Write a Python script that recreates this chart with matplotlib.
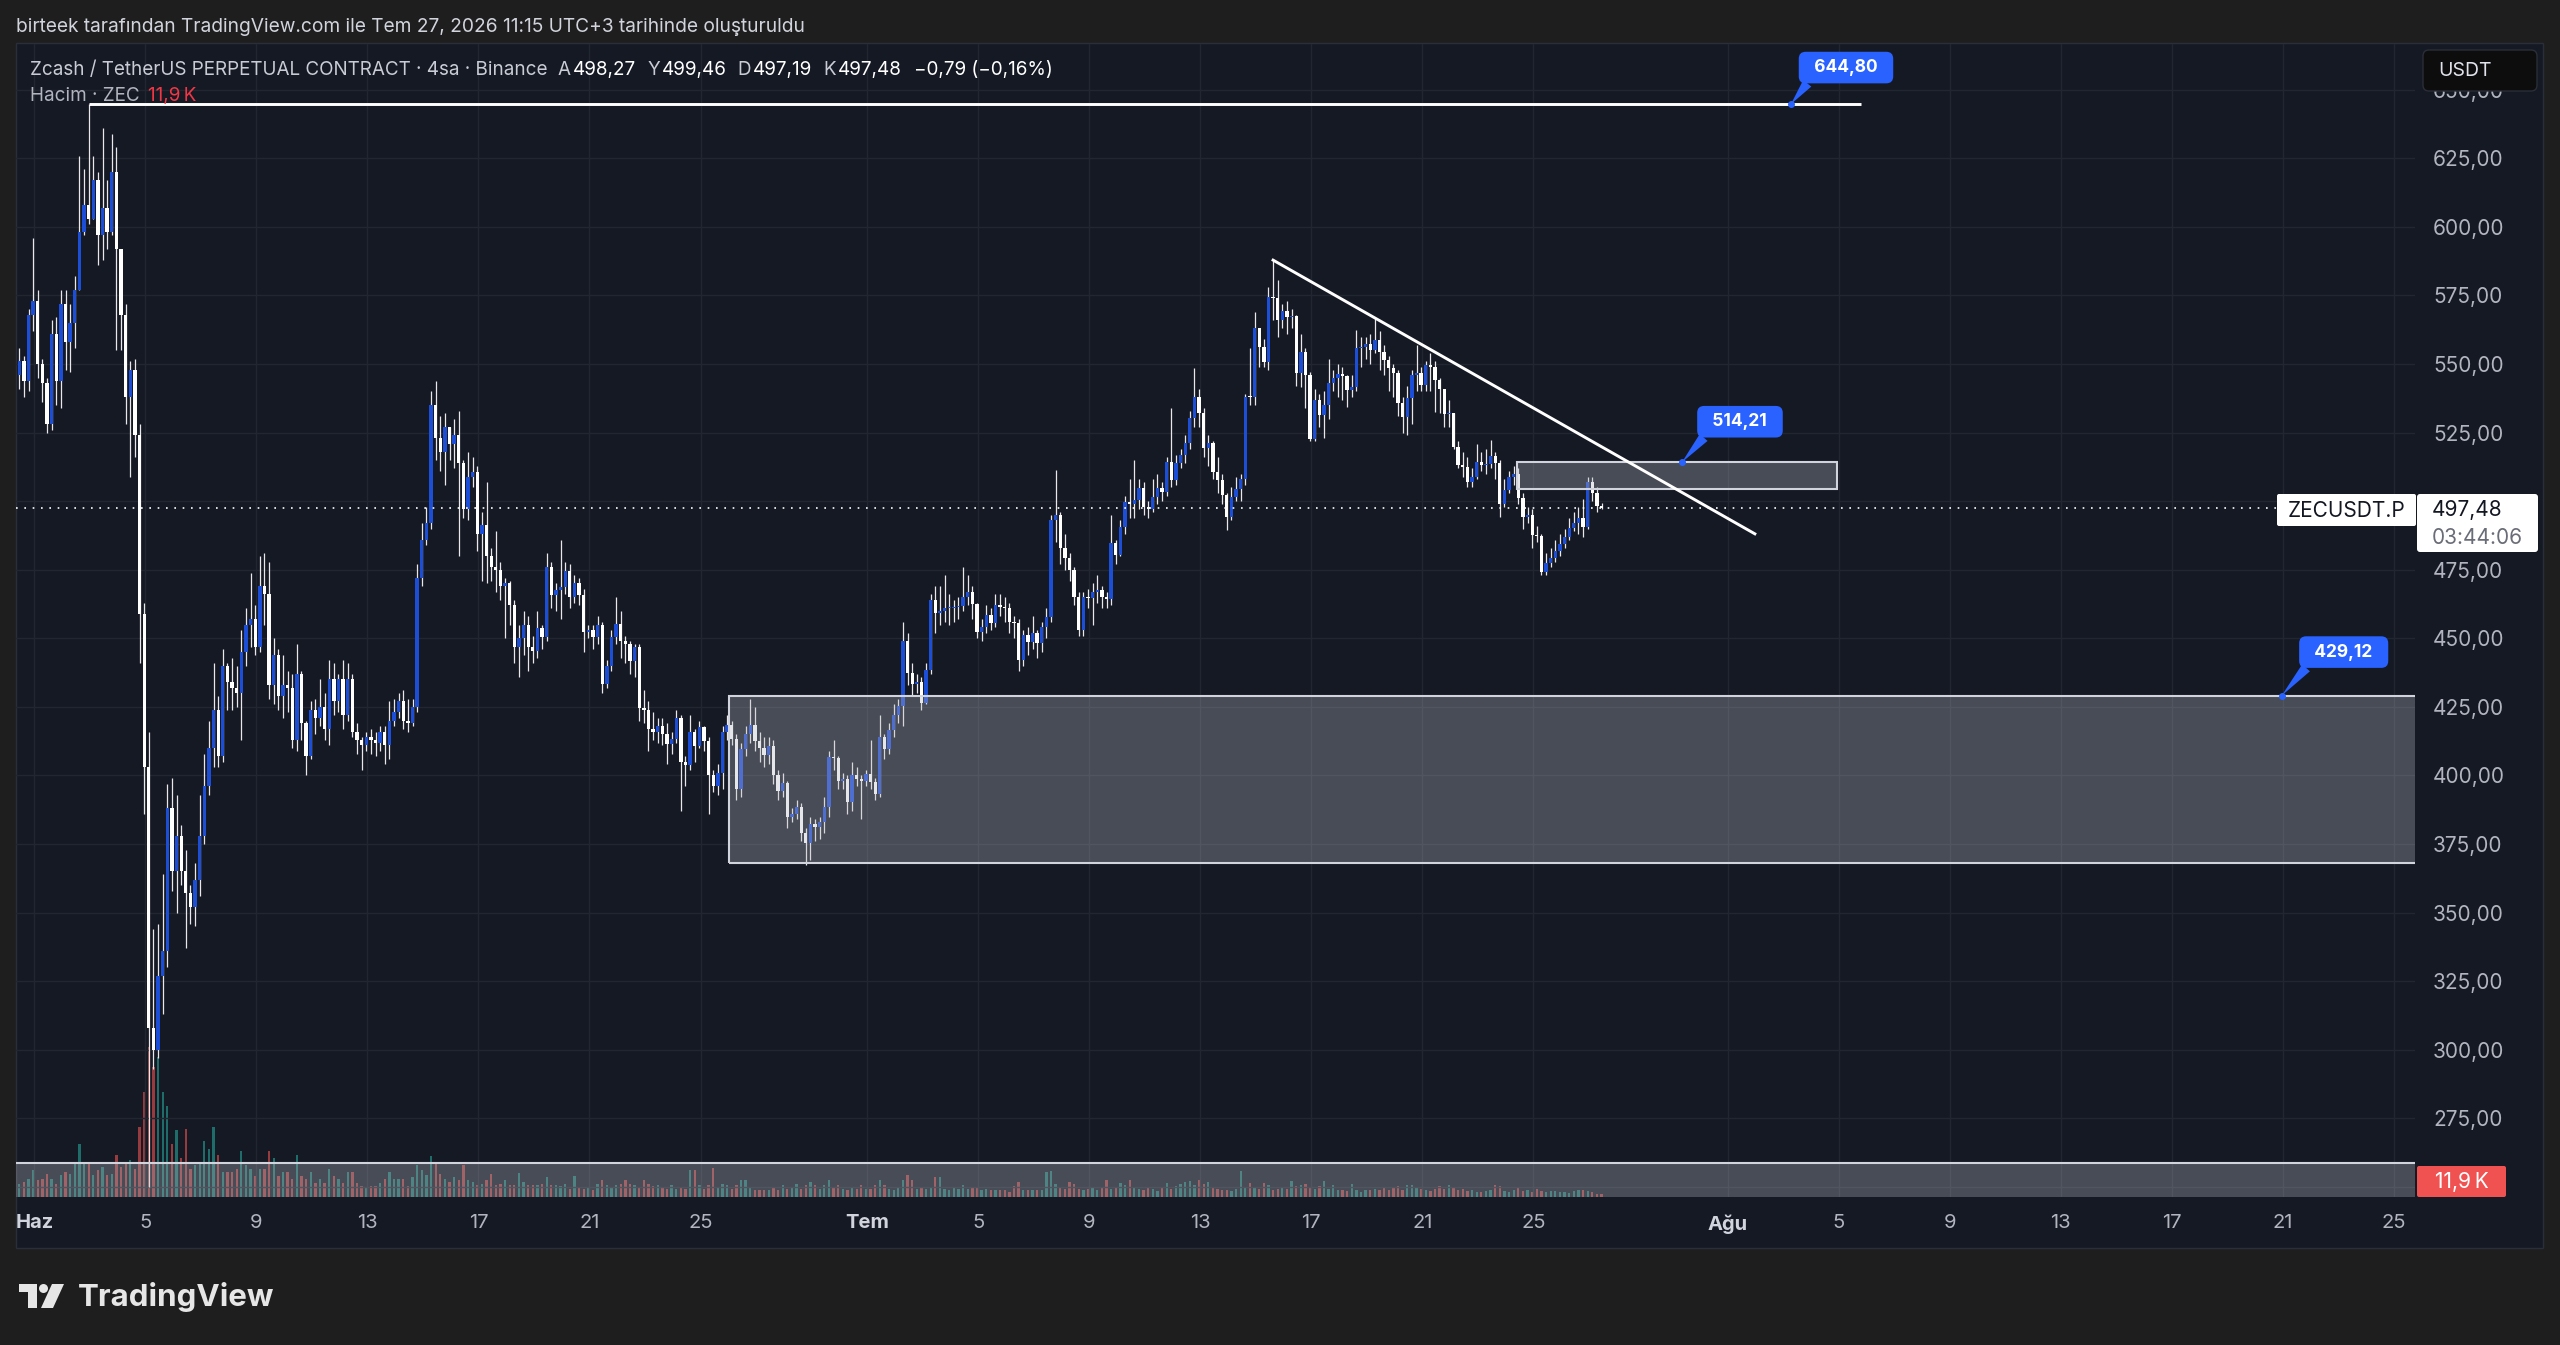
import numpy as np
import pandas as pd
import matplotlib
matplotlib.use("Agg")
import matplotlib.pyplot as plt
from matplotlib.patches import Rectangle, FancyBboxPatch, Polygon, Circle
from matplotlib.transforms import Affine2D

plt.rcParams['font.family'] = ['Inter', 'DejaVu Sans']

# ---- ZEC/USDT perpetual, 4h candles from 31 May 11:00 to 27 Jul 11:00 (UTC+3) ----
first_open = 546.0
close = [
    551, 544, 568, 573, 550, 543, 528, 561, 544, 572,
    558, 565, 577, 598, 608, 603, 617, 597, 607, 598,
    620, 592, 568, 538, 548, 524, 459, 403, 308, 300,
    327, 336, 388, 365, 378, 365, 357, 352, 362, 378,
    396, 410, 424, 407, 440, 434, 432, 430, 445, 455,
    457, 447, 469, 466, 433, 444, 429, 433, 432, 413,
    437, 419, 407, 424, 421, 425, 417, 435, 427, 435,
    422, 435, 416, 413, 411, 414, 413, 412, 416, 411,
    420, 423, 427, 420, 419, 425, 472, 486, 492, 535,
    523, 518, 527, 521, 524, 514, 497, 509, 510.5, 488,
    491.5, 480, 476, 475, 469, 470, 462, 447, 450, 455,
    447, 445.5, 453.7, 450.5, 476, 465.7, 467.6, 468.8, 474.5, 465,
    470, 465.7, 452.4, 453, 450.5, 455, 433.5, 439.8, 450.5, 455.3,
    449.2, 448, 441.7, 446.7, 424.6, 424, 417.1, 415.8, 418, 415.2,
    411.4, 413.3, 420.8, 405, 403.8, 415.8, 410.7, 417.7, 412.6, 400,
    396.2, 401, 415.8, 418.3, 413.3, 395, 409.5, 415.2, 418.3, 412.6,
    410.1, 407.6, 410.7, 400, 394.3, 397.1, 384.9, 386, 388.6, 379.2,
    375.4, 382.3, 381.1, 383, 388.6, 406.9, 406.3, 398.1, 398.7, 390.5,
    400, 398.7, 398.1, 400.6, 397.5, 393.1, 413.9, 409.5, 416.4, 422.1,
    425.3, 449.2, 437.3, 433.5, 434.1, 426.5, 438.5, 463.8, 459.3, 460,
    461, 461.2, 461.5, 461.9, 465, 466.9, 462.5, 452.4, 454, 458.5,
    455.7, 462.2, 461.6, 461, 456.1, 455.5, 442.1, 451.2, 448.8, 451.8,
    448.2, 454.3, 457.9, 493.2, 495, 482.8, 479.2, 474.9, 465.2, 453,
    465.2, 464.6, 467, 467.5, 465.2, 464.5, 484.7, 480.4, 490.7, 499.6,
    499, 500.4, 504.7, 498, 497.2, 501.7, 504.7, 503.5, 514.4, 507.7,
    513.8, 516.9, 521.1, 530.2, 538.1, 532.1, 519.3, 521.1, 510.8, 507.7,
    502.3, 494.4, 501.7, 504.3, 508, 538.1, 538, 563, 556.4, 550.9,
    574.6, 574, 566.1, 569.4, 567.3, 567.7, 546.6, 554.5, 546, 522.6,
    536.9, 531.4, 535, 543, 544.8, 546.4, 545.5, 540.6, 541.8, 556,
    556.4, 557.2, 555.1, 558.8, 554.5, 551.6, 548.4, 546.9, 535.7, 530.8,
    537.5, 546, 546.6, 542.4, 549.7, 549.1, 544.2, 540.8, 531.8, 532,
    519.9, 513.2, 512.4, 507.1, 508.7, 514.4, 513.2, 513.6, 516.5, 513.8,
    499, 504.1, 509, 509.9, 501.3, 494.4, 494.9, 487.7, 487.4, 474.3,
    477.4, 479.4, 482, 484.4, 487.1, 490.1, 492.2, 493.8, 490.7, 507.1,
    503.1, 498.27, 497.48,
]
high = [
    556, 553, 570, 596, 577, 552, 545, 566, 567, 577,
    577, 572, 582, 626, 621, 644.8, 626, 620, 636, 617,
    634, 629, 592, 572, 551, 552, 528, 463, 416, 344,
    346, 364, 397, 399, 393, 382, 373, 360, 368, 393,
    408, 420, 441, 429, 446, 441, 443, 440, 453, 461,
    474, 462, 480, 481, 478, 450, 446, 444, 438, 437,
    448, 438, 420, 427, 428, 435, 430, 442, 441, 437,
    442, 441, 437, 419, 414, 416, 417, 416, 418, 418,
    427, 428, 430, 431, 428, 428, 477, 492, 498, 540,
    544, 531, 532, 526, 530, 533, 515, 518, 516, 513,
    496, 507, 483, 489, 478, 472, 471, 464, 455, 460,
    458, 451, 460, 455, 481, 478, 470, 486, 478, 477,
    473, 472, 468, 455, 455, 458, 456, 442, 453, 465,
    460, 451, 449, 448, 448, 431, 427, 423, 421, 421,
    419, 416, 424, 422, 407, 422, 417, 420, 418, 414,
    402, 404, 418, 422, 420, 415, 412, 418, 428, 425,
    416, 414, 414, 413, 402, 401, 398, 388, 391, 390,
    381, 385, 384, 385, 392, 409, 413, 407, 401, 400,
    405, 403, 400, 402, 413, 399, 422, 415, 419, 426,
    428, 456, 452, 441, 437, 436, 441, 466, 469, 469,
    473, 466, 464, 465, 476, 473, 469, 463, 457, 462,
    461, 466, 466, 465, 463, 458, 457, 453, 454, 458,
    453, 456, 461, 495, 511.4, 496, 488, 481, 476, 467,
    467, 468, 470, 473, 469, 467, 495, 486, 493, 502,
    508, 515, 508, 507, 500, 508, 510, 507, 516, 534,
    517, 519, 524, 533, 548.5, 541, 534, 524, 522, 516,
    510, 503, 505, 509, 510, 539, 555.7, 569, 560, 559,
    578, 587.9, 580.7, 572, 573, 570, 568, 561, 556, 547,
    541, 539, 540, 552, 548, 550, 549, 546, 546, 562.4,
    560, 560, 561, 566.7, 562, 557, 553, 550, 548, 538,
    542, 548, 557, 549, 551, 554, 551, 545, 541, 537,
    532, 522, 518, 516, 512, 521, 518, 519, 522.3, 518,
    515, 508, 511, 513, 512, 503, 498, 497, 491, 488,
    481, 483, 486, 488, 490, 494, 496, 498, 500.7, 509,
    509, 505, 499.46,
]
low = [
    541, 538, 540, 562, 545, 536, 525, 526, 535, 534,
    548, 547, 556, 577, 597, 601, 603, 586, 588, 592,
    597, 555, 555, 528, 509, 516, 441, 386, 250, 293,
    297, 313, 330, 358, 350, 360, 337, 346, 345, 356,
    375, 393, 403, 403, 405, 424, 424, 425, 413, 440,
    447, 444, 445, 455, 428, 426, 424, 421, 423, 410,
    409, 413, 400, 406, 415, 418, 413, 411, 422, 423,
    417, 420, 414, 408, 402, 409, 408, 407, 409, 404,
    406, 418, 421, 417, 416, 418, 423, 469, 484, 490,
    515, 511, 506, 515, 512, 480, 494, 493, 505, 482,
    471, 470, 471, 467, 464, 450, 455, 441, 436, 444,
    438, 441, 443, 446, 449, 461, 460, 457, 466, 461,
    463, 462, 445, 450, 446, 448, 430, 432, 438, 448,
    443, 441, 437, 436, 420, 419, 409, 413, 412, 411,
    404, 408, 412, 387, 396, 402, 405, 410, 409, 386,
    394, 393, 395, 413, 411, 391, 392, 407, 412, 409,
    405, 403, 404, 397, 391, 392, 381, 383, 384, 376,
    367.2, 369, 376, 377, 379, 385, 402, 395, 395, 386,
    387, 396, 384, 396, 395, 391, 392, 406, 408, 414,
    419, 418, 433, 429, 430, 424, 426, 437, 452, 455,
    456, 455, 456, 457, 460, 462, 457, 450, 449, 452,
    453, 454, 458, 456, 452, 450, 438, 440, 444, 446,
    443, 445, 450, 456, 485, 477, 475, 471, 462, 451,
    451, 461, 455, 463, 461, 461, 462, 477, 480, 488,
    494, 494, 497, 495, 494, 496, 499, 500, 502, 505,
    506, 512, 514, 519, 527, 527, 516, 513, 508, 503,
    499, 489.5, 493, 500, 500, 506, 535, 535, 549, 549,
    548, 566, 560, 563, 561, 563, 542, 541.8, 534, 522,
    522, 527, 523, 530, 540, 538, 537, 534.5, 538, 540,
    549, 552, 550, 554, 548, 546, 540, 538, 531, 524.8,
    524, 528, 540, 540, 540, 540, 532.7, 532, 527, 527,
    519, 512, 509, 505, 505, 508, 511, 510, 512, 508,
    494.4, 498, 503, 506, 499, 490, 492, 482.8, 485, 473,
    473, 476, 478, 480, 483, 486, 489, 488, 487, 490,
    500, 496, 497.19,
]
volume_k = [
    52, 60, 72, 108, 68, 72, 92, 72, 52, 88,
    100, 92, 132, 212, 140, 132, 88, 108, 120, 88,
    92, 168, 120, 132, 148, 112, 280, 420, 600, 520,
    560, 420, 364, 212, 268, 156, 272, 112, 128, 140,
    224, 192, 280, 168, 100, 100, 100, 112, 184, 128,
    112, 84, 112, 112, 184, 156, 84, 100, 100, 72,
    168, 84, 72, 100, 56, 72, 56, 112, 84, 72,
    56, 100, 100, 56, 44, 36, 44, 44, 56, 72,
    100, 72, 72, 72, 44, 80, 128, 108, 88, 164,
    132, 92, 72, 60, 80, 68, 128, 68, 60, 48,
    52, 68, 92, 48, 52, 68, 48, 48, 96, 60,
    48, 48, 48, 52, 80, 48, 48, 44, 52, 32,
    84, 40, 32, 40, 28, 52, 68, 48, 40, 48,
    52, 68, 52, 48, 40, 68, 52, 44, 48, 40,
    32, 48, 32, 40, 32, 108, 108, 48, 32, 48,
    116, 40, 52, 48, 32, 48, 68, 68, 40, 28,
    28, 28, 28, 40, 28, 48, 32, 40, 52, 32,
    48, 60, 48, 32, 48, 68, 40, 48, 32, 28,
    40, 32, 48, 32, 32, 48, 68, 48, 32, 28,
    40, 68, 88, 68, 32, 40, 32, 40, 80, 80,
    32, 28, 40, 32, 48, 32, 40, 36, 28, 32,
    28, 28, 28, 28, 20, 44, 60, 28, 28, 28,
    28, 28, 100, 104, 52, 40, 32, 60, 52, 32,
    28, 32, 36, 28, 36, 68, 32, 40, 56, 48,
    68, 40, 32, 28, 40, 32, 24, 40, 56, 32,
    44, 52, 60, 64, 48, 68, 52, 60, 40, 32,
    28, 28, 24, 32, 104, 40, 56, 40, 32, 56,
    48, 28, 32, 40, 32, 64, 44, 48, 52, 36,
    32, 44, 64, 32, 48, 28, 28, 24, 52, 28,
    20, 28, 28, 32, 28, 40, 28, 36, 44, 28,
    48, 48, 36, 32, 28, 24, 32, 44, 32, 48,
    36, 28, 32, 24, 28, 20, 20, 24, 28, 48,
    44, 24, 20, 28, 40, 24, 28, 20, 32, 24,
    20, 24, 24, 20, 20, 16, 24, 28, 28, 24,
    20, 12, 11.9,
]

first_candle = "2026-05-31 11:00"
tick_dates = ["2026-06-01", "2026-06-05", "2026-06-09", "2026-06-13", "2026-06-17",
              "2026-06-21", "2026-06-25", "2026-07-01", "2026-07-05", "2026-07-09",
              "2026-07-13", "2026-07-17", "2026-07-21", "2026-07-25", "2026-08-01",
              "2026-08-05", "2026-08-09", "2026-08-13", "2026-08-17", "2026-08-21",
              "2026-08-25"]
tick_labels = ["Haz", "5", "9", "13", "17", "21", "25", "Tem", "5", "9", "13", "17",
               "21", "25", "Ağu", "5", "9", "13", "17", "21", "25"]
price_ticks = [250, 275, 300, 325, 350, 375, 400, 425, 450, 475, 500,
               525, 550, 575, 600, 625, 650]
hidden_ticks = [250, 500]   # covered by the volume and last-price tags

# drawings
res_level, res_from, res_to = 644.80, "2026-06-02 23:00", "2026-08-05 19:00"
trend_pts = [("2026-07-15 15:00", 587.9), ("2026-08-01 23:30", 488.1)]
zone = ("2026-06-26 01:00", 367.9, 429.12)
box = ("2026-07-24 10:00", "2026-08-04 22:30", 504.5, 514.21)
vol_band_top = 258.7
bubbles = [("2026-08-03 06:45", 644.80, (55, 36.5)),
           ("2026-07-30 08:30", 514.21, (58, 40.5)),
           ("2026-08-20 23:00", 429.12, (62, 43.5))]

# ---- style ----
W, H = 2560, 1345
BG_OUT = '#1e1e1e'
BG = '#151924'
GRID = '#222631'
TXT = '#b2b5be'
UP = '#1d4ed8'
DN = '#ffffff'
BLUE = '#2962ff'
RED = '#f23645'

ORIGIN = pd.Timestamp("2026-06-01")


def day(s):
    return (pd.Timestamp(s) - ORIGIN) / pd.Timedelta("1D")


def fmt(v):
    return f"{v:.2f}".replace('.', ',').replace('-', '\u2212')


n = min(len(close), len(high), len(low), len(volume_k))
c = np.array(close[:n], float)
o = np.concatenate([[first_open], c[:-1]])
hi = np.maximum(np.array(high[:n], float), np.maximum(o, c))
lo = np.minimum(np.array(low[:n], float), np.minimum(o, c))
vol = np.array(volume_k[:n], float)
times = pd.date_range(first_candle, periods=n, freq="4h")
x = ((times - ORIGIN) / pd.Timedelta("1D")).to_numpy()
up = c >= o

fig = plt.figure(figsize=(W / 100, H / 100), dpi=100, facecolor=BG_OUT)
PX = Affine2D().scale(1, -1).translate(0, H)

fig.patches.append(Rectangle((16, 43), 2543 - 16, 1248 - 43, transform=PX,
                             fc=BG, ec='#2a2e39', lw=1, zorder=-10))

rect = [16 / W, 1 - 1197 / H, (2415 - 16) / W, (1197 - 44) / H]
xlim = (-0.659, 85.76)
ylim = (246.3, 666.7)

# volume pane underneath
vax = fig.add_axes(rect, zorder=0)
vax.axis('off')
vax.set_xlim(*xlim)
vax.set_ylim(0, 4612)
vax.bar(x, vol, width=0.5 / 6, color=np.where(up, '#26a69a', '#ef5350'),
        alpha=0.6, linewidth=0)

ax = fig.add_axes(rect, zorder=1)
ax.patch.set_alpha(0)
for s in ax.spines.values():
    s.set_visible(False)
ax.set_xlim(*xlim)
ax.set_ylim(*ylim)
ax.set_axisbelow(True)
ax.grid(True, color=GRID, lw=1)

ax.set_xticks([day(d) for d in tick_dates])
ax.set_xticklabels(tick_labels)
ax.set_yticks(price_ticks)
ax.set_yticklabels(['' if v in hidden_ticks else fmt(v) for v in price_ticks])
ax.yaxis.tick_right()
ax.tick_params(axis='both', length=0, colors=TXT)
ax.tick_params(axis='x', pad=12.5, labelsize=14.5)
ax.tick_params(axis='y', pad=13, labelsize=15)
for lbl, t in zip(ax.get_xticklabels(), tick_labels):
    if not t.isdigit():
        lbl.set_fontweight('bold')
        lbl.set_color('#d1d4dc')

# candles
bw = 0.72 / 6
ax.vlines(x, lo, hi, color='#e8e8e8', lw=0.9, zorder=2)
bottom = np.minimum(o, c)
height = np.maximum(np.abs(c - o), 0.4)
ax.bar(x[up], height[up], bottom=bottom[up], width=bw, color=UP, lw=0, zorder=3)
ax.bar(x[~up], height[~up], bottom=bottom[~up], width=bw, color=DN, lw=0, zorder=3)

# current price dotted line
ax.axhline(c[-1], color='white', lw=1.2, ls=(0, (1, 4)), zorder=4)

# rectangles
rfc, rec = '#b2b5be', '#d1d4dc'
z0 = day(zone[0])
b0, b1 = day(box[0]), day(box[1])
for (rx, ry, rw, rh) in [(z0, zone[1], 120 - z0, zone[2] - zone[1]),
                         (b0, box[2], b1 - b0, box[3] - box[2]),
                         (-5, 200, 130, vol_band_top - 200)]:
    ax.add_patch(Rectangle((rx, ry), rw, rh, fc=rfc, alpha=0.33, ec='none', zorder=5))
    ax.add_patch(Rectangle((rx, ry), rw, rh, fc='none', ec=rec, lw=1.5, zorder=5))

# lines
ax.plot([day(res_from), day(res_to)], [res_level, res_level], color='white', lw=2.1,
        solid_capstyle='butt', zorder=6)
ax.plot([day(p[0]) for p in trend_pts], [p[1] for p in trend_pts], color='white', lw=2.1,
        zorder=6)

# price label bubbles
for when, lvl, off in bubbles:
    px_ = day(when)
    ax.plot(px_, lvl, 'o', ms=4, color=BLUE, zorder=8)
    ax.annotate('  ' + fmt(lvl) + '  ', xy=(px_, lvl), xytext=off, textcoords='offset pixels',
                ha='center', va='center', fontsize=12.5, fontweight='bold', color='white',
                zorder=9, annotation_clip=False,
                bbox=dict(boxstyle='round,pad=0.42,rounding_size=0.4', fc=BLUE, ec='none'),
                arrowprops=dict(arrowstyle='wedge,tail_width=0.6,shrink_factor=0.5',
                                fc=BLUE, ec='none', relpos=(0.12, 0.2),
                                shrinkA=0, shrinkB=0))


# ---- overlay texts and tags ----
def tag(x0, y0, x1, y1, fc, ec='none', r=3):
    fig.patches.append(FancyBboxPatch((x0, y0), x1 - x0, y1 - y0, transform=PX,
                                      boxstyle=f'round,pad=0,rounding_size={r}',
                                      fc=fc, ec=ec, lw=1, zorder=10))


def ftext(xp, yp, s, **kw):
    kw.setdefault('va', 'center')
    kw.setdefault('zorder', 11)
    return fig.text(xp, yp, s, transform=PX, **kw)


renderer = fig.canvas.get_renderer()


def text_run(xp, yp, parts, size):
    for s, col, gap in parts:
        t = ftext(xp, yp, s, fontsize=size, color=col)
        xp += t.get_window_extent(renderer).width + gap


ftext(16, 27, "birteek tarafından TradingView.com ile Tem 27, 2026 11:15 UTC+3 tarihinde oluşturuldu",
      fontsize=13.8, color='#d1d4dc')

chg = c[-1] - c[-2]
pct = chg / c[-2] * 100
head = '#c9ccd4'
text_run(29.5, 70, [
    ("Zcash / TetherUS PERPETUAL CONTRACT · 4sa · Binance", head, 11),
    ("A", head, 2), (fmt(o[-1]), 'white', 11),
    ("Y", head, 2), (fmt(hi[-1]), 'white', 11),
    ("D", head, 2), (fmt(lo[-1]), 'white', 11),
    ("K", head, 2), (fmt(c[-1]), 'white', 12),
    (f"{fmt(chg)} ({fmt(pct)}%)", 'white', 0),
], 13.6)
vol_txt = f"{vol[-1]:.1f}".replace('.', ',') + "\u2009K"
text_run(29.5, 96, [("Hacim · ZEC", TXT, 9), (vol_txt, RED, 0)], 13.6)

# USDT button
tag(2423, 50, 2537, 91, '#0d0d0d', ec='#2a2e39', r=6)
ftext(2438, 71, "USDT", fontsize=14, color='#e0e3eb')

# last price tags
tag(2277, 494, 2416, 526, 'white', r=2)
ftext(2346.5, 511, "ZECUSDT.P", fontsize=15, color='#131722', ha='center')
tag(2417, 494, 2538, 552, 'white', r=3)
ftext(2432, 510, fmt(c[-1]), fontsize=15, color='#131722')
ftext(2432, 538, "03:44:06", fontsize=15, color='#6a6d78')

# volume tag
tag(2417, 1166, 2506, 1197, '#f05252', r=2)
ftext(2461.5, 1182.5, vol_txt, fontsize=15, color='white', ha='center')

# TradingView logo
logo = '#e6e6e6'
for p in [Rectangle((19, 1284), 18, 8), Rectangle((28, 1284), 9, 24),
          Circle((43.5, 1288.5), 4.5),
          Polygon([(52, 1284), (64, 1284), (53, 1308), (41, 1308)])]:
    p.set_transform(PX)
    p.set_facecolor(logo)
    p.set_edgecolor('none')
    p.set_zorder(10)
    fig.patches.append(p)
ftext(78, 1297, "TradingView", fontsize=22.5, fontweight='bold', color=logo)

fig.savefig("out.png", dpi=100, facecolor=fig.get_facecolor())
